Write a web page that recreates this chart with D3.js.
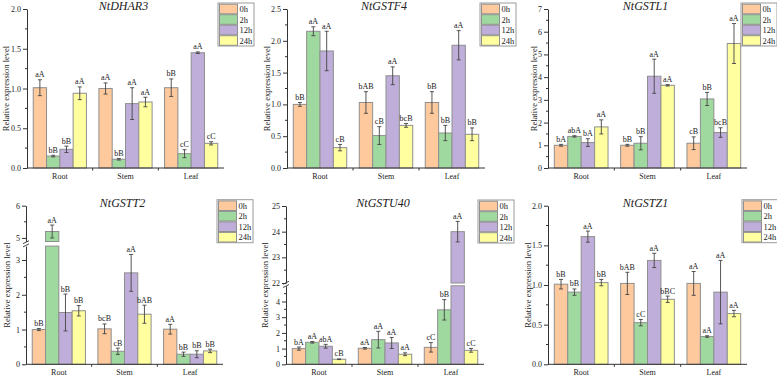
<!DOCTYPE html>
<html>
<head>
<meta charset="utf-8">
<script src="https://cdn.jsdelivr.net/npm/d3@7/dist/d3.min.js"></script>
<style>
body { margin: 0; background: #fff; }
svg text { font-family: "Liberation Serif", "Times New Roman", serif; fill: #222; }
</style>
</head>
<body>
<script>
const tissues = ["Root", "Stem", "Leaf"];
const times = ["0h", "2h", "12h", "24h"];
const timeColors = ["#fdc99d", "#9fd99f", "#bfaed9", "#ffff9f"];

// means / sd / letters, one row per tissue, one column per time
const dhar3Mean = [[1.01, 0.15, 0.235, 0.94], [1.0, 0.11, 0.81, 0.83], [1.01, 0.18, 1.45, 0.31]];
const dhar3Sd   = [[0.10, 0.01, 0.04, 0.08], [0.07, 0.01, 0.20, 0.06], [0.11, 0.05, 0.01, 0.02]];
const dhar3Sig  = [["aA", "bB", "bB", "aA"], ["aA", "bB", "aA", "aA"], ["bB", "cC", "aA", "cC"]];

const gstf4Mean = [[1.0, 2.15, 1.84, 0.32], [1.03, 0.51, 1.45, 0.67], [1.03, 0.55, 1.93, 0.53]];
const gstf4Sd   = [[0.03, 0.07, 0.31, 0.05], [0.17, 0.14, 0.14, 0.03], [0.17, 0.12, 0.23, 0.10]];
const gstf4Sig  = [["bB", "aA", "aA", "cB"], ["bAB", "cB", "aA", "bcB"], ["bB", "bB", "aA", "bB"]];

const gstl1Mean = [[1.0, 1.39, 1.12, 1.81], [1.0, 1.09, 4.04, 3.64], [1.09, 3.04, 1.56, 5.48]];
const gstl1Sd   = [[0.04, 0.03, 0.17, 0.31], [0.04, 0.29, 0.75, 0.03], [0.28, 0.29, 0.21, 0.88]];
const gstl1Sig  = [["bA", "abA", "bA", "aA"], ["bB", "bB", "aA", "aA"], ["cB", "bB", "bcB", "aA"]];

const gstt2Mean = [[1.0, 5.2, 1.49, 1.54], [1.02, 0.375, 2.63, 1.44], [1.01, 0.29, 0.29, 0.385]];
const gstt2Sd   = [[0.03, 0.20, 0.53, 0.15], [0.14, 0.09, 0.53, 0.26], [0.14, 0.06, 0.10, 0.05]];
const gstt2Sig  = [["bB", "aA", "bB", "bB"], ["bcB", "cB", "aA", "bAB"], ["aA", "bB", "bB", "bB"]];

const gstu40Mean = [[1.0, 1.4, 1.15, 0.32], [1.02, 1.57, 1.36, 0.64], [1.08, 3.47, 24.0, 0.89]];
const gstu40Sd   = [[0.10, 0.05, 0.12, 0.02], [0.05, 0.53, 0.35, 0.09], [0.30, 0.65, 0.40, 0.12]];
const gstu40Sig  = [["bA", "aA", "abA", "cB"], ["aA", "aA", "aA", "aA"], ["cC", "bB", "aA", "cC"]];

const gstz1Mean = [[1.01, 0.91, 1.61, 1.03], [1.02, 0.525, 1.31, 0.82], [1.02, 0.35, 0.91, 0.64]];
const gstz1Sd   = [[0.06, 0.04, 0.07, 0.04], [0.14, 0.04, 0.09, 0.04], [0.15, 0.01, 0.40, 0.04]];
const gstz1Sig  = [["bB", "bB", "aA", "bB"], ["bAB", "cC", "aA", "bBC"], ["aA", "aA", "aA", "aA"]];

const ticksHalf2   = [0, 0.5, 1.0, 1.5, 2.0];
const ticksHalf25  = [0, 0.5, 1.0, 1.5, 2.0, 2.5];
const ticksOne7    = [0, 1, 2, 3, 4, 5, 6, 7];
const ticksT2Low   = [0, 1, 2, 3];
const ticksT2High  = [5, 6];
const ticksU40Low  = [0, 1, 2, 3, 4];
const ticksU40High = [22, 23, 24, 25];

window.onload = () => {
    const svg = d3.select("body").append("svg")
        .attr("width", 777)
        .attr("height", 377);

    const panels = [
        {gene: "NtDHAR3", mean: dhar3Mean, sd: dhar3Sd, sig: dhar3Sig, left: 27, right: 224, top: 9, bottom: 168,
         low: [0, 2], lowTicks: ticksHalf2, fmt: ".1f", labelX: 9, legendX: 218},
        {gene: "NtGSTF4", mean: gstf4Mean, sd: gstf4Sd, sig: gstf4Sig, left: 287, right: 485, top: 9, bottom: 168,
         low: [0, 2.5], lowTicks: ticksHalf25, fmt: ".1f", labelX: 270, legendX: 480},
        {gene: "NtGSTL1", mean: gstl1Mean, sd: gstl1Sd, sig: gstl1Sig, left: 548, right: 747, top: 9, bottom: 168,
         low: [0, 7], lowTicks: ticksOne7, fmt: "d", labelX: 537, legendX: 741},
        {gene: "NtGSTT2", mean: gstt2Mean, sd: gstt2Sd, sig: gstt2Sig, left: 26, right: 223, top: 205.7, bottom: 364.3,
         low: [0, 3.4], lowTicks: ticksT2Low, high: [4.89, 6], highTicks: ticksT2High, gapLow: 246.1, gapHigh: 241.5,
         fmt: "d", labelX: 10, legendX: 217},
        {gene: "NtGSTU40", mean: gstu40Mean, sd: gstu40Sd, sig: gstu40Sig, left: 286, right: 484, top: 206, bottom: 364.3,
         low: [0, 5], lowTicks: ticksU40Low, high: [22, 25], highTicks: ticksU40High, gapLow: 285.8, gapHigh: 283,
         fmt: "d", labelX: 268, legendX: 478},
        {gene: "NtGSTZ1", mean: gstz1Mean, sd: gstz1Sd, sig: gstz1Sig, left: 548, right: 747, top: 205.7, bottom: 364.3,
         low: [0, 2], lowTicks: ticksHalf2, fmt: ".1f", labelX: 531, legendX: 742}
    ];

    panels.forEach(p => drawPanel(svg, p));
};

function drawPanel(svg, p) {
    const broken = !!p.high;
    const yLow = d3.scaleLinear().domain(p.low).range([p.bottom, broken ? p.gapLow : p.top]);
    const yHigh = broken ? d3.scaleLinear().domain(p.high).range([p.gapHigh, p.top]) : null;
    const y = v => (!broken || v <= p.low[1]) ? yLow(Math.min(v, p.low[1])) : yHigh(Math.max(v, p.high[0]));

    const x0 = d3.scaleBand().domain(tissues).range([p.left, p.right]).paddingInner(0.19).paddingOuter(0.095);
    const x1 = d3.scaleBand().domain(times).range([0, x0.bandwidth()]);

    const g = svg.append("g");

    const rows = [];
    tissues.forEach((t, i) => times.forEach((h, j) => rows.push({
        tissue: t, time: h, ci: j, v: p.mean[i][j], sd: p.sd[i][j], sig: p.sig[i][j]
    })));

    // bars (split in two pieces when crossing the axis break)
    rows.forEach(d => {
        const bx = x0(d.tissue) + x1(d.time);
        const pieces = [];
        if (broken && d.v > p.low[1]) {
            pieces.push([yLow(p.low[1]), yLow(0)]);
            pieces.push([yHigh(d.v), yHigh(p.high[0])]);
        } else {
            pieces.push([y(d.v), y(0)]);
        }
        pieces.forEach(pc => {
            g.append("rect")
                .attr("x", bx)
                .attr("y", pc[0])
                .attr("width", x1.bandwidth())
                .attr("height", pc[1] - pc[0])
                .attr("fill", timeColors[d.ci])
                .attr("stroke", "#8f8f8f")
                .attr("stroke-width", 1);
        });

        const cx = bx + x1.bandwidth() / 2;
        const yt = y(d.v + d.sd), yb = y(d.v - d.sd);
        g.append("line").attr("x1", cx).attr("x2", cx).attr("y1", yt).attr("y2", yb)
            .attr("stroke", "#444").attr("stroke-width", 0.9);
        [yt, yb].forEach(yy => g.append("line")
            .attr("x1", cx - 2).attr("x2", cx + 2).attr("y1", yy).attr("y2", yy)
            .attr("stroke", "#444").attr("stroke-width", 0.9));

        g.append("text")
            .attr("x", cx)
            .attr("y", yt - 2.5)
            .attr("text-anchor", "middle")
            .attr("font-size", "8px")
            .text(d.sig);
    });

    // y axis (one per segment when broken)
    const segs = [{s: yLow, ticks: p.lowTicks, dom: p.low}];
    if (broken) segs.push({s: yHigh, ticks: p.highTicks, dom: p.high});
    segs.forEach(sg => {
        const ax = g.append("g")
            .attr("transform", "translate(" + p.left + ",0)")
            .call(d3.axisLeft(sg.s).tickValues(sg.ticks).tickFormat(d3.format(p.fmt))
                .tickSizeInner(4).tickSizeOuter(0).tickPadding(2));
        ax.select(".domain").attr("stroke", "#333");
        ax.selectAll(".tick line").attr("stroke", "#333");
        ax.selectAll("text").attr("font-size", "8px").attr("font-family", "Liberation Serif").attr("fill", "#222");

        const step = sg.ticks[1] - sg.ticks[0];
        const minors = sg.ticks.map(t => t + step / 2).filter(t => t < sg.dom[1]);
        minors.forEach(m => g.append("line")
            .attr("x1", p.left - 2).attr("x2", p.left)
            .attr("y1", sg.s(m)).attr("y2", sg.s(m))
            .attr("stroke", "#333"));
    });

    if (broken) {
        const mid = (p.gapLow + p.gapHigh) / 2;
        [-1.6, 1.6].forEach(o => g.append("line")
            .attr("x1", p.left - 3).attr("x2", p.left + 3)
            .attr("y1", mid + o + 1.5).attr("y2", mid + o - 1.5)
            .attr("stroke", "#333").attr("stroke-width", 0.9));
    }

    // x axis
    g.append("line")
        .attr("x1", p.left).attr("x2", p.right)
        .attr("y1", p.bottom).attr("y2", p.bottom)
        .attr("stroke", "#333");
    tissues.slice(1).forEach(t => g.append("line")
        .attr("x1", x0(t) - x0.step() * 0.095).attr("x2", x0(t) - x0.step() * 0.095)
        .attr("y1", p.bottom).attr("y2", p.bottom + 2.5)
        .attr("stroke", "#333"));
    tissues.forEach(t => g.append("text")
        .attr("x", x0(t) + x0.bandwidth() / 2)
        .attr("y", p.bottom + 11)
        .attr("text-anchor", "middle")
        .attr("font-size", "8px")
        .text(t));

    // title
    g.append("text")
        .attr("x", (p.left + p.right) / 2 - 2)
        .attr("y", p.top + 1)
        .attr("text-anchor", "middle")
        .attr("font-size", "12px")
        .attr("font-style", "italic")
        .text(p.gene);

    // y label
    g.append("text")
        .attr("transform", "rotate(-90)")
        .attr("x", -(p.top + p.bottom) / 2)
        .attr("y", p.labelX)
        .attr("text-anchor", "middle")
        .attr("font-size", "8.5px")
        .text("Relative expression level");

    // legend
    const ly = p.top - 6;
    g.append("rect")
        .attr("x", p.legendX).attr("y", ly)
        .attr("width", 36).attr("height", 43)
        .attr("fill", "#fff").attr("stroke", "#9a9a9a");
    times.forEach((h, i) => {
        g.append("rect")
            .attr("x", p.legendX + 1.5).attr("y", ly + 1.2 + i * 10.5)
            .attr("width", 18).attr("height", 9.6)
            .attr("fill", timeColors[i]).attr("stroke", "#8f8f8f");
        g.append("text")
            .attr("x", p.legendX + 21.5).attr("y", ly + 9 + i * 10.5)
            .attr("font-size", "8.5px")
            .text(h);
    });
}
</script>
</body>
</html>
